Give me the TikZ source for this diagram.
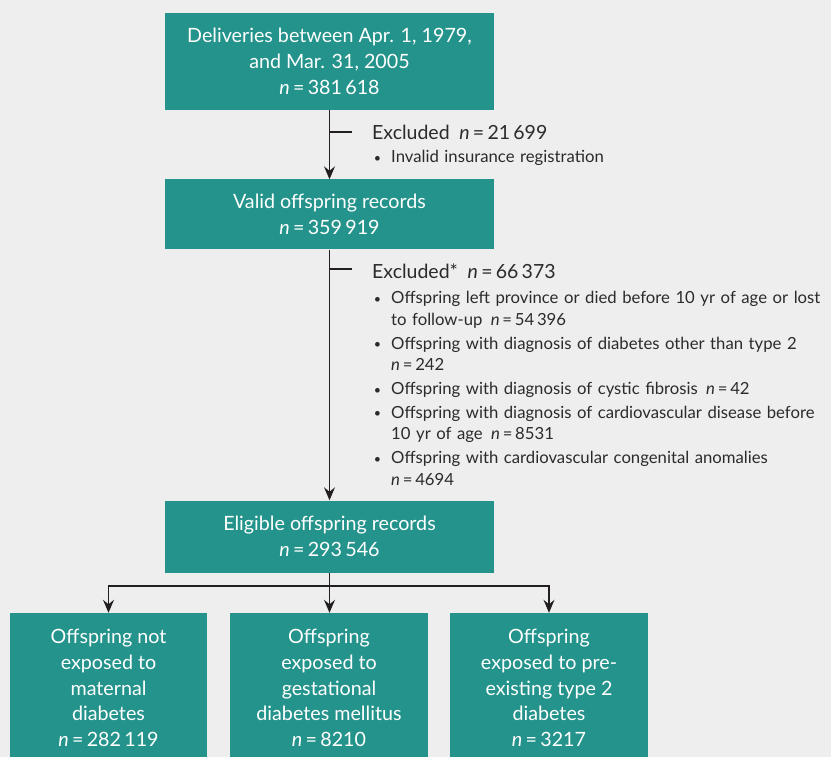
\documentclass[tikz,border=0pt]{standalone}
\usepackage{fontspec}
\setmainfont{Lato}
\usepackage{xcolor}
\definecolor{pagebg}{HTML}{EEEEEE}
\definecolor{boxteal}{HTML}{23938B}
\definecolor{inkline}{HTML}{231F20}
\definecolor{inktext}{HTML}{2B2B2B}
\usepackage{tikz}
\usetikzlibrary{positioning, arrows.meta, calc}
\tikzset{
    flowbox/.style = {rectangle, fill=boxteal, text=white, align=center,
                      inner sep=0pt, font=\fontsize{19.7}{25.8}\selectfont},
    exclhead/.style = {anchor=west, inner sep=0pt, text=inktext,
                       font=\fontsize{19.5}{22}\selectfont},
    excllist/.style = {anchor=north west, inner sep=0pt, text=inktext,
                       text width=462pt, align=left,
                       font=\fontsize{16.7}{21.6}\selectfont},
    arrow/.style = {-{Stealth[length=13pt, width=11pt, inset=4.5pt]}, line width=1.2pt, color=inkline},
    branch/.style = {line width=1.2pt, color=inkline},
}
\newcommand{\ncount}[1]{\textit{n}\,=\,#1}
\newcommand{\smallbullet}{\raisebox{0.5pt}{\scalebox{0.75}{\textbullet}}}
\newenvironment{bulletlist}{\begin{list}{\smallbullet}{%
    \setlength{\leftmargin}{19pt}\setlength{\labelsep}{10pt}%
    \setlength{\labelwidth}{9pt}\setlength{\itemsep}{2.2pt}%
    \setlength{\topsep}{0pt}\setlength{\partopsep}{0pt}%
    \setlength{\parsep}{0pt}}}{\end{list}}

\begin{document}
\begin{tikzpicture}[x=1pt, y=-1pt]
        % page
        \fill[pagebg] (0,0) rectangle (831,757);
        \useasboundingbox (0,0) rectangle (831,757);
        % boxes
        \node[flowbox, minimum width=329pt, minimum height=97pt] (deliv) at (329.5,61.5)
            {Deliveries between Apr. 1, 1979,\\and Mar. 31, 2005\\\ncount{381\,618}};
        \node[flowbox, minimum width=329pt, minimum height=70pt] (valid) at (329.5,214.5)
            {Valid offspring records\\\ncount{359\,919}};
        \node[flowbox, minimum width=329pt, minimum height=72pt] (elig) at (329.5,536.5)
            {Eligible offspring records\\\ncount{293\,546}};
        \node[flowbox, minimum width=197pt, minimum height=150pt] (nomd) at (108.5,688)
            {Offspring not\\exposed to\\maternal\\diabetes\\\ncount{282\,119}};
        \node[flowbox, minimum width=198pt, minimum height=150pt] (gdm) at (329,688)
            {Offspring\\exposed to\\gestational\\diabetes mellitus\\\ncount{8210}};
        \node[flowbox, minimum width=198pt, minimum height=150pt] (pret2d) at (549,688)
            {Offspring\\exposed to pre-\\existing type 2\\diabetes\\\ncount{3217}};
        % exclusions
        \node[exclhead] (excl1) at (372,132) {Excluded\enspace\ncount{21\,699}};
        \node[excllist] (excl1list) at (372,141) {%
            \begin{bulletlist}
            \item Invalid insurance registration
            \end{bulletlist}};
        \node[exclhead] (excl2) at (372,271) {Excluded*\enspace\ncount{66\,373}};
        \node[excllist] (excl2list) at (372,282) {%
            \begin{bulletlist}
            \item Offspring left province or died before 10 yr of age or lost\newline to follow-up\enspace\ncount{54\,396}
            \item Offspring with diagnosis of diabetes other than type 2\newline\ncount{242}
            \item Offspring with diagnosis of cystic fibrosis\enspace\ncount{42}
            \item Offspring with diagnosis of cardiovascular disease before\newline 10 yr of age\enspace\ncount{8531}
            \item Offspring with cardiovascular congenital anomalies\newline\ncount{4694}
            \end{bulletlist}};
        % connectors
        \draw[arrow] (deliv) -- (valid);
        \draw[arrow] (valid) -- (elig);
        \coordinate (tick1) at (352,132);
        \coordinate (tick2) at (352,269);
        \draw[branch] (tick1) -- (tick1 -| deliv.south);
        \draw[branch] (tick2) -- (tick2 -| valid.south);
        \coordinate (split) at (329.5,586);
        \draw[branch] (elig) -- (split);
        \draw[arrow] (split) -| (nomd.north);
        \draw[arrow] (split) -- (split |- gdm.north);
        \draw[arrow] (split) -| (pret2d.north);
      \end{tikzpicture}
\end{document}
